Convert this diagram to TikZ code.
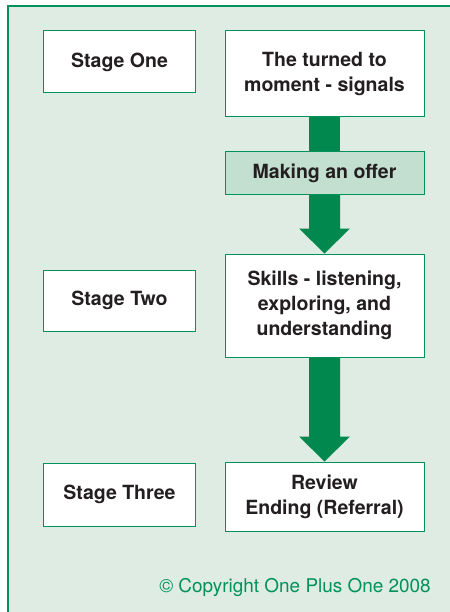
\documentclass[tikz,border=0pt]{standalone}
\usepackage{fontspec}
\setmainfont{TeX Gyre Heros}
\definecolor{framegreen}{HTML}{00925A}
\definecolor{arrowgreen}{HTML}{00884F}
\definecolor{panelgreen}{HTML}{DEECE4}
\definecolor{offergreen}{HTML}{C3DFCF}
\definecolor{inkgray}{HTML}{231F20}
% fat down arrow from the bottom of #1 to the top of #2
\newcommand{\fatarrow}[2]{%
  \fill[arrowgreen] ([xshift=-15.5bp]#1.south)
    -- ([xshift=-15.5bp,yshift=25bp]#2.north)
    -- ([xshift=-25.5bp,yshift=25bp]#2.north)
    -- (#2.north)
    -- ([xshift=25.5bp,yshift=25bp]#2.north)
    -- ([xshift=15.5bp,yshift=25bp]#2.north)
    -- ([xshift=15.5bp]#1.south) -- cycle;}

\begin{document}
\begin{tikzpicture}[x=1bp,y=-1bp,
  box/.style={draw=framegreen,line width=1bp,fill=white,text=inkgray,
    align=center,inner sep=0pt,font=\bfseries\fontsize{19.6}{25}\selectfont},
  stagebox/.style={box,minimum width=151bp},
  stepbox/.style={box,minimum width=199bp}]
\useasboundingbox (0,0) rectangle (450,612);
\draw[framegreen,line width=1.5bp,fill=panelgreen] (8,6) rectangle (470,640);

\node[stagebox,minimum height=62bp] (one) at (119.5,62) {Stage One};
\node[stepbox,minimum height=86bp] (turned) at (324.5,74) {The turned to\\moment - signals};
\node[stepbox,minimum height=43bp,fill=offergreen] (offer) at (324.5,173) {Making an offer};
\node[stagebox,minimum height=61bp] (two) at (119.5,300.5) {Stage Two};
\node[stepbox,minimum height=103bp] (skills) at (324.5,305.5) {Skills - listening,\\exploring, and\\understanding};
\node[stagebox,minimum height=63bp] (three) at (119.5,494.5) {Stage Three};
\node[stepbox,minimum height=69bp] (review) at (324.5,496.5) {Review\\Ending (Referral)};

\fill[arrowgreen] ([xshift=-15.5bp]turned.south) rectangle ([xshift=15.5bp]offer.north);
\fatarrow{offer}{skills}
\fatarrow{skills}{review}

\node[text=framegreen,font=\fontsize{19}{22}\selectfont] (copy) at (295,587) {© Copyright One Plus One 2008};
\end{tikzpicture}
\end{document}
